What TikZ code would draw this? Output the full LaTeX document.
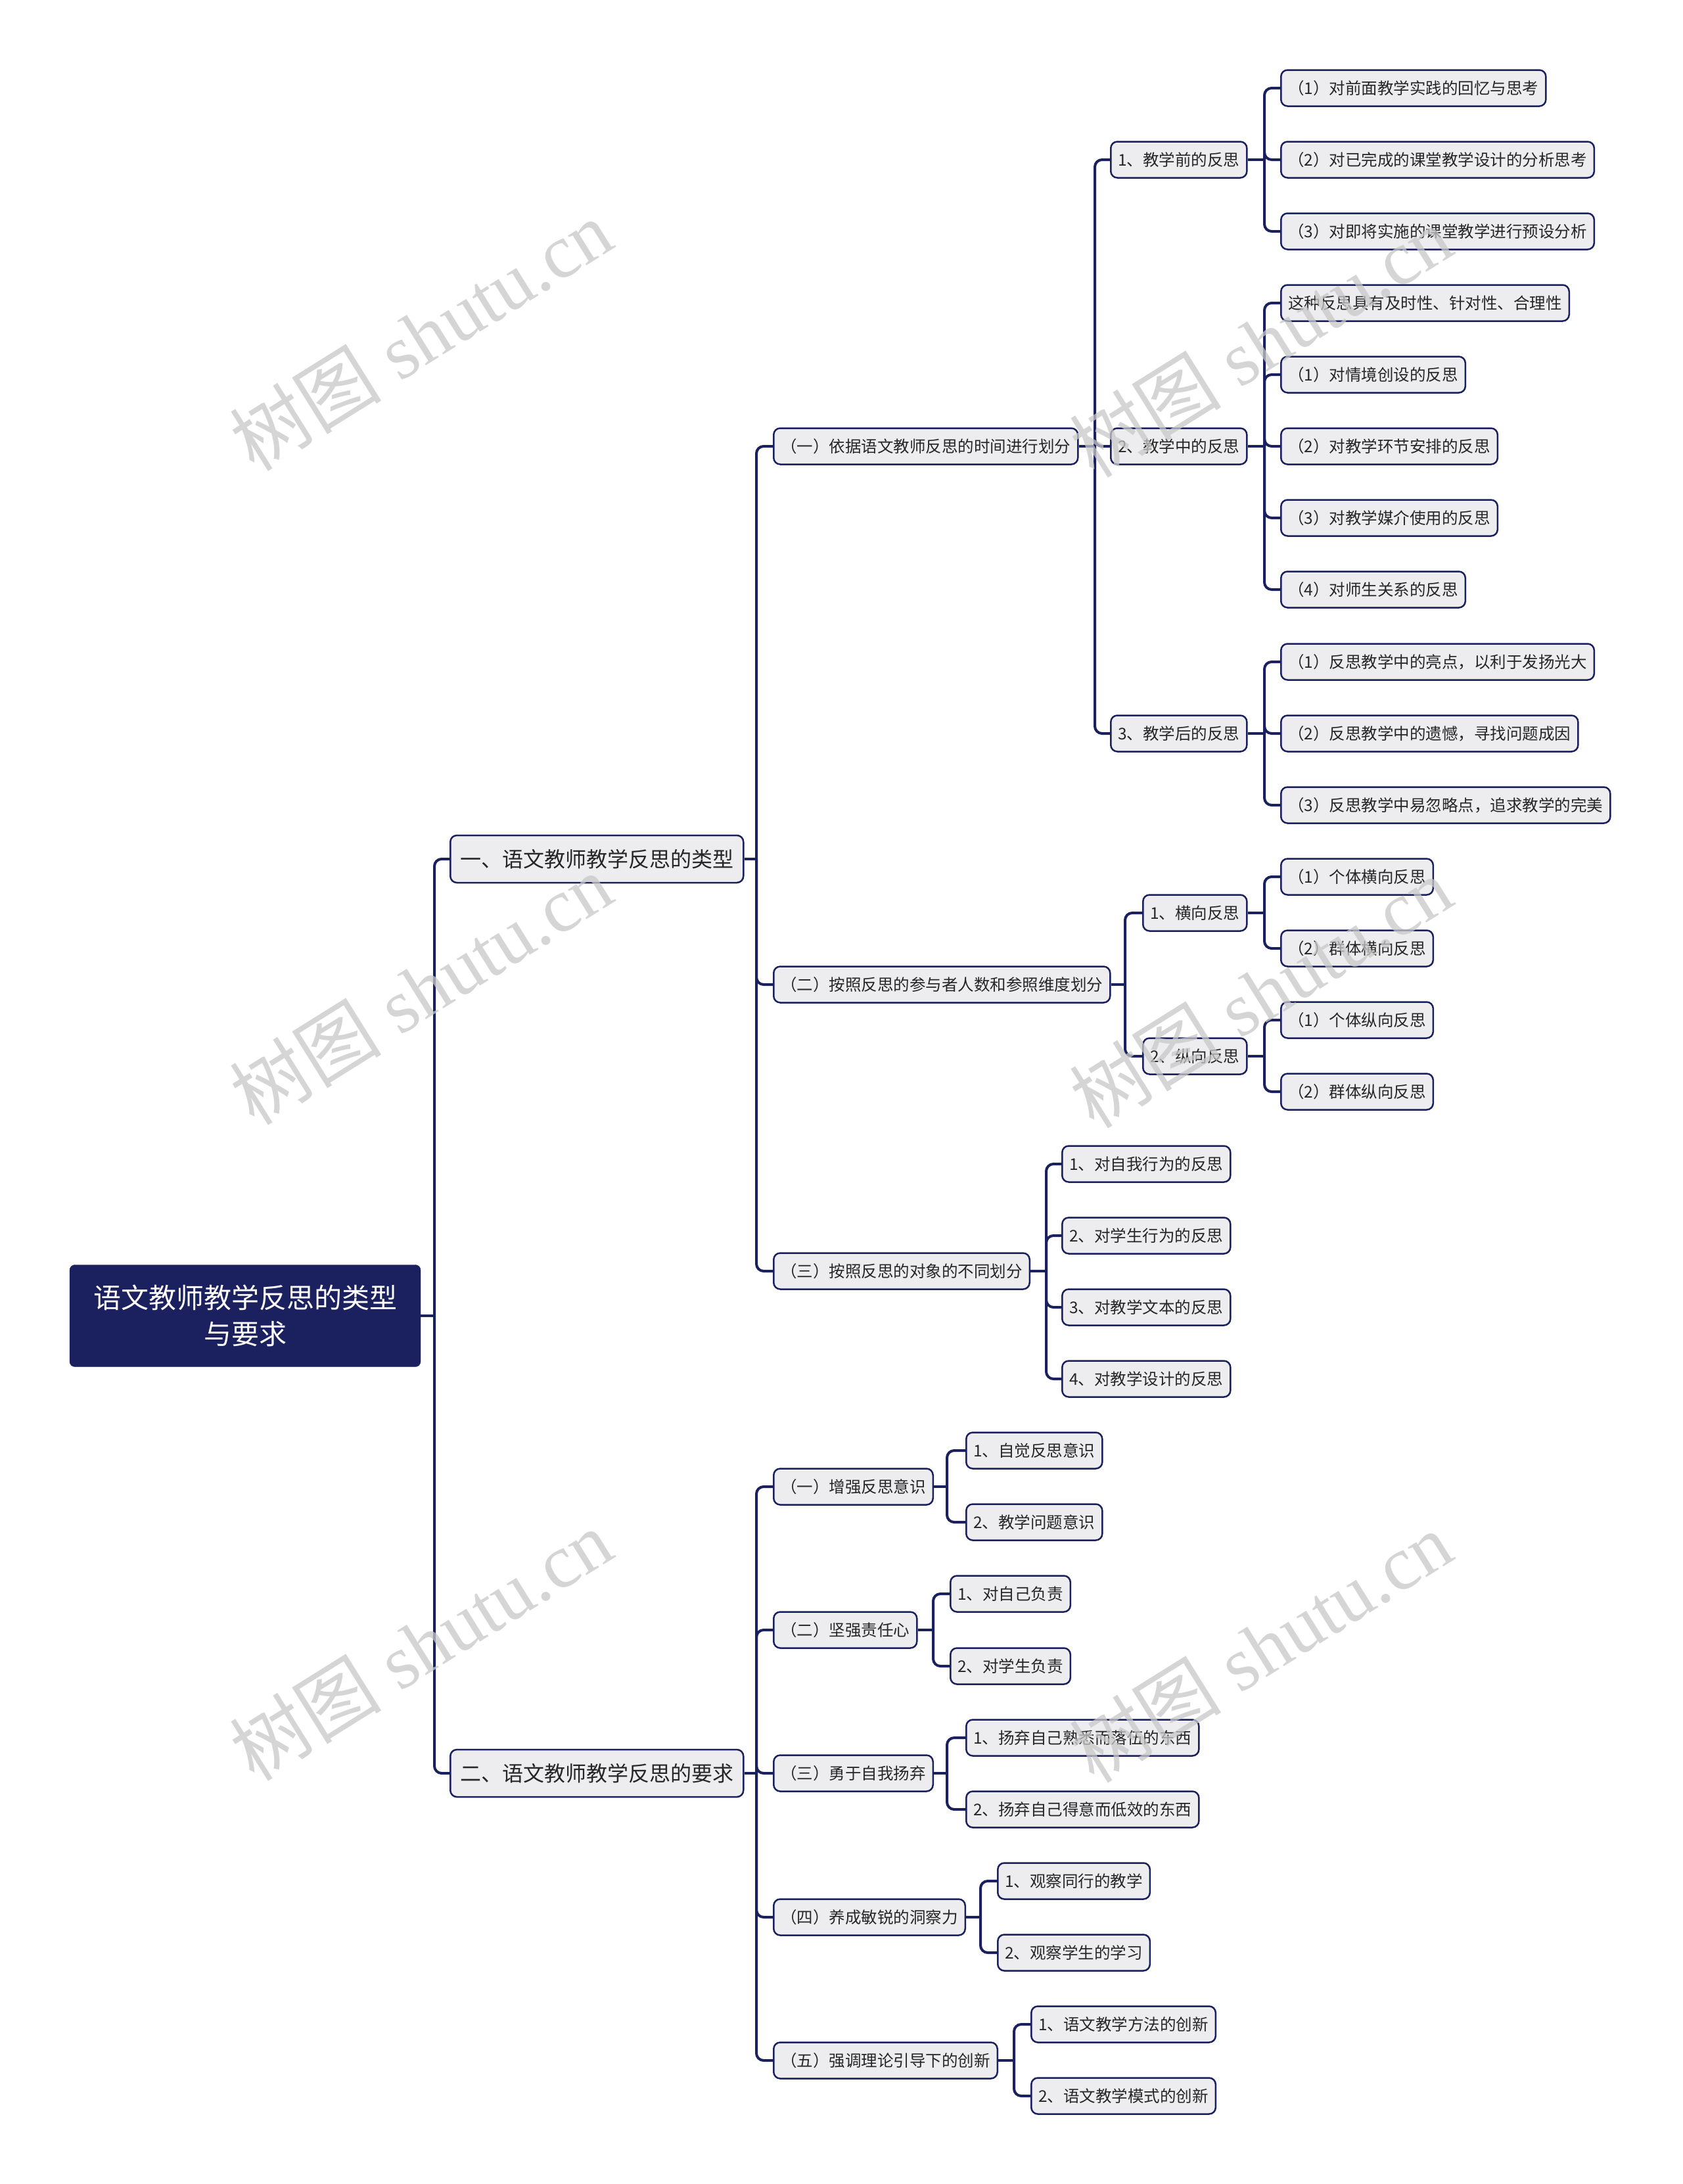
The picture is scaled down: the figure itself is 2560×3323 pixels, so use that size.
\documentclass[tikz,border=0pt]{standalone}
\usepackage{fontspec}
\newfontfamily\cjk{Noto Sans CJK SC}
\newfontfamily\wmfont{Liberation Serif}
\usetikzlibrary{positioning, calc}

\definecolor{navy}{RGB}{27,32,94}
\definecolor{boxgray}{RGB}{237,237,240}
\definecolor{wmgray}{RGB}{200,200,200}

\begin{document}
\begin{tikzpicture}[
    x=1pt, y=-1pt,
    every node/.style={font=\cjk, text=black!85},
    rootbox/.style={draw=navy, fill=navy, text=white, rounded corners=8pt,
                    minimum width=534pt, minimum height=155pt, align=center,
                    font=\cjk\fontsize{42}{55}\selectfont},
    topic/.style={draw=navy, line width=2.5pt, fill=boxgray, rounded corners=10pt,
                  minimum height=72pt, inner xsep=15pt, anchor=west,
                  font=\cjk\fontsize{32}{36}\selectfont},
    leaf/.style={draw=navy, line width=2.5pt, fill=boxgray, rounded corners=10pt,
                 minimum height=55pt, inner xsep=11pt, anchor=west,
                 font=\cjk\fontsize{24.5}{28}\selectfont},
    link/.style={draw=navy, line width=4pt, rounded corners=11pt},
    stub/.style={draw=navy, line width=4pt},
    wmark/.style={text=wmgray, opacity=0.75, rotate=32,
                  font=\wmfont\fontsize{116}{120}\selectfont},
]

\fill[white] (0,0) rectangle (2560,3323);
\useasboundingbox (0,0) rectangle (2560,3323);

% Root and main branches
\node[rootbox] (root) at (373,2002) {语文教师教学反思的类型\\与要求};
\node[topic] (ta) at (684,1307) {一、语文教师教学反思的类型};
\node[topic] (tb) at (684,2698) {二、语文教师教学反思的要求};

% Types
\node[leaf] (a1) at (1176,679) {（一）依据语文教师反思的时间进行划分};
\node[leaf] (a2) at (1176,1498) {（二）按照反思的参与者人数和参照维度划分};
\node[leaf] (a3) at (1176,1934) {（三）按照反思的对象的不同划分};

\node[leaf] (a11) at (1689,243) {1、教学前的反思};
\node[leaf] (a12) at (1689,679) {2、教学中的反思};
\node[leaf] (a13) at (1689,1116) {3、教学后的反思};

\node[leaf] (a111) at (1948,134) {（1）对前面教学实践的回忆与思考};
\node[leaf] (a112) at (1948,243) {（2）对已完成的课堂教学设计的分析思考};
\node[leaf] (a113) at (1948,352) {（3）对即将实施的课堂教学进行预设分析};

\node[leaf] (a121) at (1948,461) {这种反思具有及时性、针对性、合理性};
\node[leaf] (a122) at (1948,570) {（1）对情境创设的反思};
\node[leaf] (a123) at (1948,679) {（2）对教学环节安排的反思};
\node[leaf] (a124) at (1948,788) {（3）对教学媒介使用的反思};
\node[leaf] (a125) at (1948,897) {（4）对师生关系的反思};

\node[leaf] (a131) at (1948,1007) {（1）反思教学中的亮点，以利于发扬光大};
\node[leaf] (a132) at (1948,1116) {（2）反思教学中的遗憾，寻找问题成因};
\node[leaf] (a133) at (1948,1225) {（3）反思教学中易忽略点，追求教学的完美};

\node[leaf] (a21) at (1738,1389) {1、横向反思};
\node[leaf] (a22) at (1738,1607) {2、纵向反思};
\node[leaf] (a211) at (1948,1334) {（1）个体横向反思};
\node[leaf] (a212) at (1948,1443) {（2）群体横向反思};
\node[leaf] (a221) at (1948,1552) {（1）个体纵向反思};
\node[leaf] (a222) at (1948,1661) {（2）群体纵向反思};

\node[leaf] (a31) at (1615,1771) {1、对自我行为的反思};
\node[leaf] (a32) at (1615,1880) {2、对学生行为的反思};
\node[leaf] (a33) at (1615,1989) {3、对教学文本的反思};
\node[leaf] (a34) at (1615,2098) {4、对教学设计的反思};

% Requirements
\node[leaf] (b1) at (1176,2262) {（一）增强反思意识};
\node[leaf] (b2) at (1176,2480) {（二）坚强责任心};
\node[leaf] (b3) at (1176,2698) {（三）勇于自我扬弃};
\node[leaf] (b4) at (1176,2917) {（四）养成敏锐的洞察力};
\node[leaf] (b5) at (1176,3135) {（五）强调理论引导下的创新};

\node[leaf] (b11) at (1469,2207) {1、自觉反思意识};
\node[leaf] (b12) at (1469,2316) {2、教学问题意识};
\node[leaf] (b21) at (1445,2425) {1、对自己负责};
\node[leaf] (b22) at (1445,2535) {2、对学生负责};
\node[leaf] (b31) at (1469,2644) {1、扬弃自己熟悉而落伍的东西};
\node[leaf] (b32) at (1469,2753) {2、扬弃自己得意而低效的东西};
\node[leaf] (b41) at (1517,2862) {1、观察同行的教学};
\node[leaf] (b42) at (1517,2971) {2、观察学生的学习};
\node[leaf] (b51) at (1568,3080) {1、语文教学方法的创新};
\node[leaf] (b52) at (1568,3189) {2、语文教学模式的创新};

% Junctions
\coordinate (jroot) at (root.east -| 661,0);
\coordinate (jta) at (ta.east -| 1151,0);
\coordinate (ja1) at (a1.east -| 1666,0);
\coordinate (ja11) at (a11.east -| 1924,0);
\coordinate (ja12) at (a12.east -| 1924,0);
\coordinate (ja13) at (a13.east -| 1924,0);
\coordinate (ja2) at (a2.east -| 1712,0);
\coordinate (ja21) at (a21.east -| 1924,0);
\coordinate (ja22) at (a22.east -| 1924,0);
\coordinate (ja3) at (a3.east -| 1592,0);
\coordinate (jtb) at (tb.east -| 1151,0);
\coordinate (jb1) at (b1.east -| 1441,0);
\coordinate (jb2) at (b2.east -| 1420,0);
\coordinate (jb3) at (b3.east -| 1441,0);
\coordinate (jb4) at (b4.east -| 1492,0);
\coordinate (jb5) at (b5.east -| 1543,0);

% Connectors
\draw[stub] (root.east) -- (jroot);
\draw[link] (jroot) |- (ta.west);
\draw[link] (jroot) |- (tb.west);

\draw[stub] (ta.east) -- (jta);
\draw[link] (jta) |- (a1.west);
\draw[link] (jta) |- (a2.west);
\draw[link] (jta) |- (a3.west);

\draw[stub] (a1.east) -- (ja1);
\draw[link] (ja1) |- (a11.west);
\draw[link] (ja1) |- (a12.west);
\draw[link] (ja1) |- (a13.west);

\draw[stub] (a11.east) -- (ja11);
\draw[link] (ja11) |- (a111.west);
\draw[link] (ja11) |- (a112.west);
\draw[link] (ja11) |- (a113.west);

\draw[stub] (a12.east) -- (ja12);
\draw[link] (ja12) |- (a121.west);
\draw[link] (ja12) |- (a122.west);
\draw[link] (ja12) |- (a123.west);
\draw[link] (ja12) |- (a124.west);
\draw[link] (ja12) |- (a125.west);

\draw[stub] (a13.east) -- (ja13);
\draw[link] (ja13) |- (a131.west);
\draw[link] (ja13) |- (a132.west);
\draw[link] (ja13) |- (a133.west);

\draw[stub] (a2.east) -- (ja2);
\draw[link] (ja2) |- (a21.west);
\draw[link] (ja2) |- (a22.west);
\draw[stub] (a21.east) -- (ja21);
\draw[link] (ja21) |- (a211.west);
\draw[link] (ja21) |- (a212.west);
\draw[stub] (a22.east) -- (ja22);
\draw[link] (ja22) |- (a221.west);
\draw[link] (ja22) |- (a222.west);

\draw[stub] (a3.east) -- (ja3);
\draw[link] (ja3) |- (a31.west);
\draw[link] (ja3) |- (a32.west);
\draw[link] (ja3) |- (a33.west);
\draw[link] (ja3) |- (a34.west);

\draw[stub] (tb.east) -- (jtb);
\draw[link] (jtb) |- (b1.west);
\draw[link] (jtb) |- (b2.west);
\draw[link] (jtb) |- (b3.west);
\draw[link] (jtb) |- (b4.west);
\draw[link] (jtb) |- (b5.west);

\draw[stub] (b1.east) -- (jb1);
\draw[link] (jb1) |- (b11.west);
\draw[link] (jb1) |- (b12.west);
\draw[stub] (b2.east) -- (jb2);
\draw[link] (jb2) |- (b21.west);
\draw[link] (jb2) |- (b22.west);
\draw[stub] (b3.east) -- (jb3);
\draw[link] (jb3) |- (b31.west);
\draw[link] (jb3) |- (b32.west);
\draw[stub] (b4.east) -- (jb4);
\draw[link] (jb4) |- (b41.west);
\draw[link] (jb4) |- (b42.west);
\draw[stub] (b5.east) -- (jb5);
\draw[link] (jb5) |- (b51.west);
\draw[link] (jb5) |- (b52.west);

% Watermarks
\node[wmark] (w1) at (640,510) {{\cjk 树图} shutu.cn};
\node[wmark] (w2) at (640,1505) {{\cjk 树图} shutu.cn};
\node[wmark] (w3) at (640,2503) {{\cjk 树图} shutu.cn};
\node[wmark] (w4) at (1918,520) {{\cjk 树图} shutu.cn};
\node[wmark] (w5) at (1918,1510) {{\cjk 树图} shutu.cn};
\node[wmark] (w6) at (1918,2506) {{\cjk 树图} shutu.cn};

\end{tikzpicture}
\end{document}
